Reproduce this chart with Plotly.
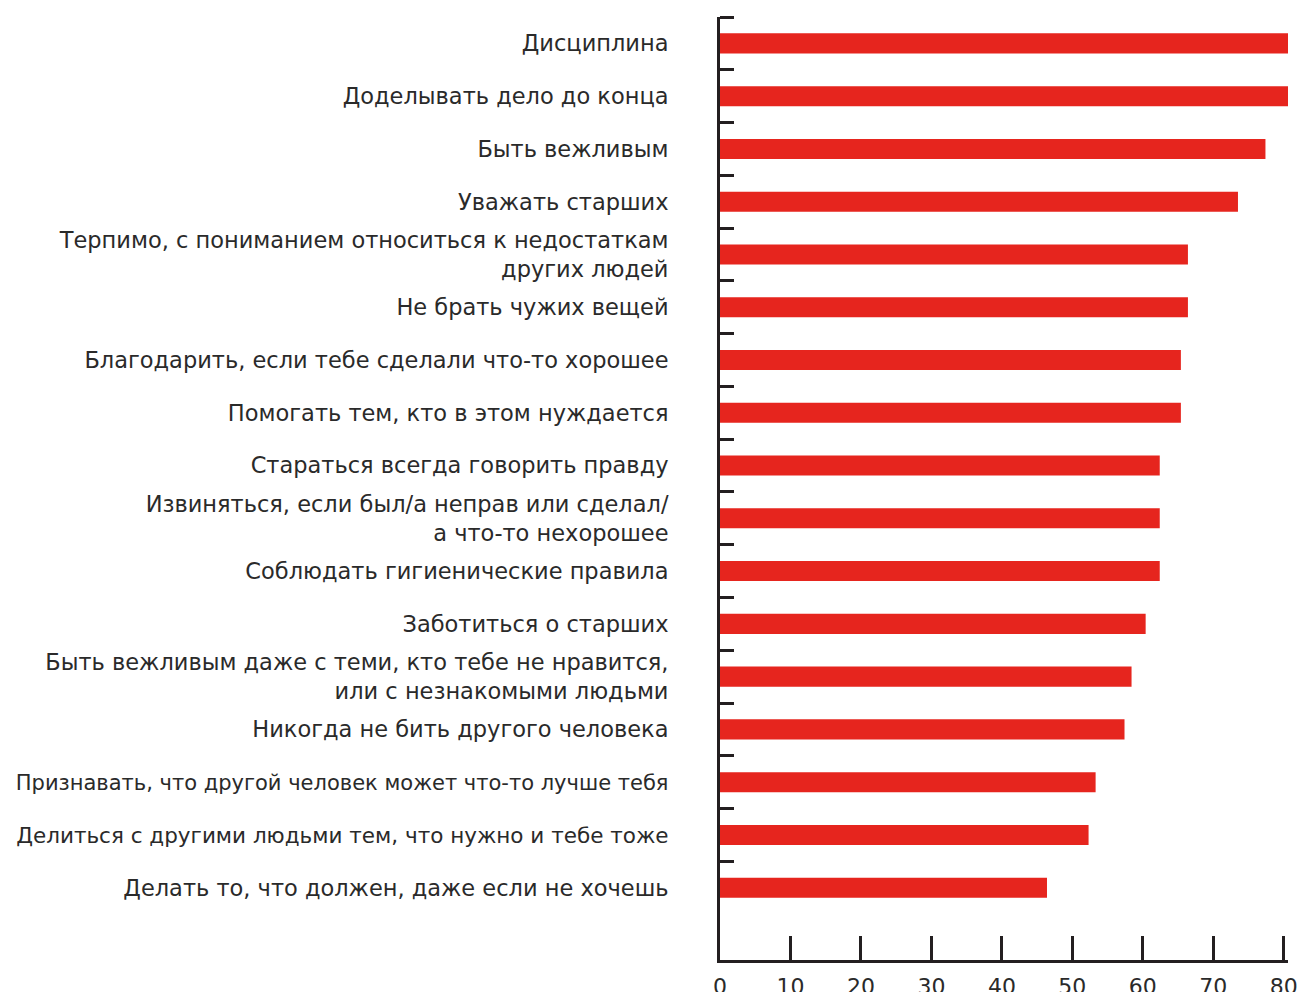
import plotly.graph_objects as go

categories = [
    "Дисциплина",
    "Доделывать дело до конца",
    "Быть вежливым",
    "Уважать старших",
    "Терпимо, с пониманием относиться к недостаткам<br>других людей",
    "Не брать чужих вещей",
    "Благодарить, если тебе сделали что-то хорошее",
    "Помогать тем, кто в этом нуждается",
    "Стараться всегда говорить правду",
    "Извиняться, если был/а неправ или сделал/<br>а что-то нехорошее",
    "Соблюдать гигиенические правила",
    "Заботиться о старших",
    "Быть вежливым даже с теми, кто тебе не нравится,<br>или с незнакомыми людьми",
    "Никогда не бить другого человека",
    '<span style="font-size:21px">Признавать, что другой человек может что-то лучше тебя</span>',
    '<span style="font-size:21.5px">Делиться с другими людьми тем, что нужно и тебе тоже</span>',
    "Делать то, что должен, даже если не хочешь",
]
values = [80.6, 80.6, 77.4, 73.5, 66.4, 66.4, 65.4, 65.4, 62.4, 62.4, 62.4,
          60.4, 58.4, 57.4, 53.3, 52.3, 46.4]
x_ticks = [0, 10, 20, 30, 40, 50, 60, 70, 80]

positions = list(range(len(categories)))
boundaries = [p - 0.5 for p in positions]

AX = "#231f20"
TXT = "#2a2a2a"

fig = go.Figure(go.Bar(
    x=values, y=positions, orientation="h",
    marker=dict(color="#e6251e", line=dict(width=0)),
    width=0.38,
))

fig.update_layout(
    width=1305, height=992,
    margin=dict(l=720, r=17, t=17, b=32),
    paper_bgcolor="white", plot_bgcolor="white",
    showlegend=False,
    font=dict(family="DejaVu Sans", size=22.5, color=TXT),
)
fig.update_xaxes(
    range=[0, 80.6], tickmode="array", tickvals=x_ticks,
    showgrid=False, zeroline=False, automargin=False,
    showline=True, linecolor=AX, linewidth=3,
    ticks="inside", ticklen=24, tickwidth=2.5, tickcolor=AX,
    tickfont=dict(size=22, color=TXT), ticklabelstandoff=5,
)
fig.update_yaxes(
    range=[len(categories) + 0.37, -0.5],
    tickmode="array", tickvals=positions, ticktext=categories,
    ticks="", showgrid=False, zeroline=False, automargin=False,
    showline=True, linecolor=AX, linewidth=3,
    ticklabelstandoff=44,
    minor=dict(tickmode="array", tickvals=boundaries, ticks="inside",
               ticklen=14, tickwidth=2.5, tickcolor=AX, showgrid=False),
    tickfont=dict(size=22.5, color=TXT),
)

fig.write_html("out.html", config={"displayModeBar": False},
               post_script="document.body.style.margin='0';")
